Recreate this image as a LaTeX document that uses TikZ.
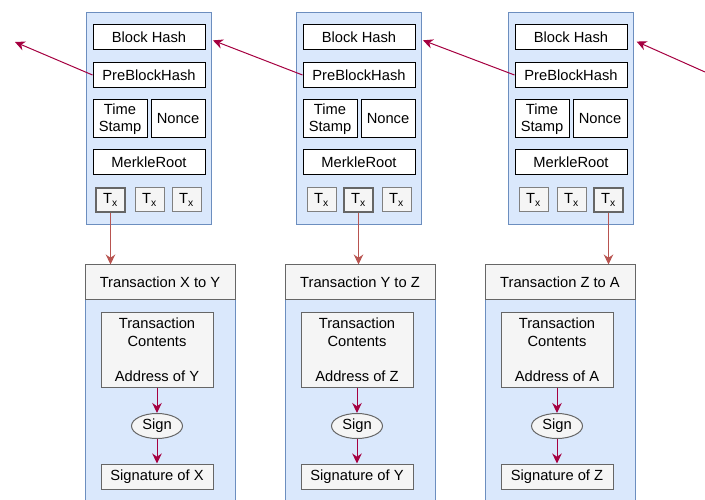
\documentclass[tikz,border=0pt]{standalone}
\usepackage{fontspec}
\setmainfont{Liberation Sans}
\usetikzlibrary{arrows.meta,shapes.geometric}

\definecolor{blkfill}{HTML}{DAE8FC}
\definecolor{blkline}{HTML}{6C8EBF}
\definecolor{hdrfill}{HTML}{F5F5F5}
\definecolor{hdrline}{HTML}{666666}
\definecolor{chain}{HTML}{A50040}
\definecolor{txred}{HTML}{B85450}

\begin{document}
\begin{tikzpicture}[
  x=1pt,y=-1pt,
  font=\fontsize{14.7}{17.5}\selectfont,
  every node/.style={inner sep=0pt,align=center},
  block/.style={draw=blkline,fill=blkfill,line width=1pt,
                minimum width=125pt,minimum height=212pt},
  field/.style={draw=black,fill=white,line width=1pt,
                minimum width=112pt,minimum height=25pt},
  half/.style={field,minimum width=54pt,minimum height=38pt},
  txbox/.style={draw=gray,fill=hdrfill,line width=1pt,
                minimum width=29pt,minimum height=24pt},
  picked/.style={draw=hdrline,line width=2pt},
  panel/.style={draw=blkline,fill=blkfill,line width=1pt,
                minimum width=150pt,minimum height=211pt},
  head/.style={draw=hdrline,fill=hdrfill,line width=1pt,
               minimum width=150pt,minimum height=34pt},
  content/.style={draw=hdrline,fill=hdrfill,line width=1pt,
                  minimum width=112pt,minimum height=75pt},
  signbox/.style={content,minimum height=25pt},
  signer/.style={ellipse,draw=hdrline,fill=hdrfill,line width=1pt,
                 minimum width=51pt,minimum height=25pt},
  link/.style={-{Stealth[length=10pt,width=9.5pt]},line width=1pt,draw=chain},
  txar/.style={-{Stealth[length=10pt,width=9.5pt]},line width=1pt,draw=txred}
]
\useasboundingbox (0,0) rectangle (705,500);
\clip (0,0) rectangle (705,500);

%%%%%%%%%%%%%%%%%%%%%% blocks of the chain %%%%%%%%%%%%%%%%%%%%%%%%%%%%%%%%
\node[block] (blk1)  at (148.5,119) {};
\node[field] (hash1) at (149,37.5)  {Block Hash};
\node[field] (prev1) at (149,75)    {PreBlockHash};
\node[half]  (time1) at (120,119)   {Time\\Stamp};
\node[half]  (nonce1) at (178,119)  {Nonce};
\node[field] (merk1) at (149,162.5) {MerkleRoot};
\node[txbox,picked] (txa1) at (110.5,200) {T\textsubscript{x}};
\node[txbox] (txb1) at (149.5,200) {T\textsubscript{x}};
\node[txbox] (txc1) at (186.5,200) {T\textsubscript{x}};

\node[block] (blk2)  at (358.5,119) {};
\node[field] (hash2) at (359,37.5)  {Block Hash};
\node[field] (prev2) at (359,75)    {PreBlockHash};
\node[half]  (time2) at (330,119)   {Time\\Stamp};
\node[half]  (nonce2) at (388,119)  {Nonce};
\node[field] (merk2) at (359,162.5) {MerkleRoot};
\node[txbox] (txa2) at (321.5,200) {T\textsubscript{x}};
\node[txbox,picked] (txb2) at (358.5,200) {T\textsubscript{x}};
\node[txbox] (txc2) at (396.5,200) {T\textsubscript{x}};

\node[block] (blk3)  at (570.5,119) {};
\node[field] (hash3) at (571,37.5)  {Block Hash};
\node[field] (prev3) at (571,75)    {PreBlockHash};
\node[half]  (time3) at (542,119)   {Time\\Stamp};
\node[half]  (nonce3) at (600,119)  {Nonce};
\node[field] (merk3) at (571,162.5) {MerkleRoot};
\node[txbox] (txa3) at (533.5,200) {T\textsubscript{x}};
\node[txbox] (txb3) at (571.5,200) {T\textsubscript{x}};
\node[txbox,picked] (txc3) at (608.5,200) {T\textsubscript{x}};

\coordinate (west end) at (15,42);
\coordinate (east end) at (705,72);
\draw[link] (prev1.west) -- (west end);
\draw[link,shorten >=8pt] (prev2.west) -- (hash1.east);
\draw[link,shorten >=8pt] (prev3.west) -- (hash2.east);
\draw[link,shorten >=10pt] (east end) -- (hash3.east);

%%%%%%%%%%%%%%%%%%%%%% transactions %%%%%%%%%%%%%%%%%%%%%%%%%%%%%%%%%%%%%%%
\node[panel]   (body1) at (160,404.5) {};
\node[head]    (head1) at (160,282)   {Transaction X to Y};
\node[content] (cont1) at (157,349.5) {Transaction\\Contents\\[17.5pt]Address of Y};
\node[signer]  (sign1) at (157,426)   {Sign};
\node[signbox] (sig1)  at (157,476.5) {Signature of X};

\node[panel]   (body2) at (360,404.5) {};
\node[head]    (head2) at (360,282)   {Transaction Y to Z};
\node[content] (cont2) at (357,349.5) {Transaction\\Contents\\[17.5pt]Address of Z};
\node[signer]  (sign2) at (357,426)   {Sign};
\node[signbox] (sig2)  at (357,476.5) {Signature of Y};

\node[panel]   (body3) at (560,404.5) {};
\node[head]    (head3) at (560,282)   {Transaction Z to A};
\node[content] (cont3) at (557,349.5) {Transaction\\Contents\\[17.5pt]Address of A};
\node[signer]  (sign3) at (557,426)   {Sign};
\node[signbox] (sig3)  at (557,476.5) {Signature of Z};

\draw[txar] (txa1.south) -- (txa1.south |- head1.north);
\draw[txar] (txb2.south) -- (txb2.south |- head2.north);
\draw[txar] (txc3.south) -- (txc3.south |- head3.north);

\draw[link] (cont1) -- (sign1);
\draw[link] (sign1) -- (sig1);
\draw[link] (cont2) -- (sign2);
\draw[link] (sign2) -- (sig2);
\draw[link] (cont3) -- (sign3);
\draw[link] (sign3) -- (sig3);
\end{tikzpicture}
\end{document}
